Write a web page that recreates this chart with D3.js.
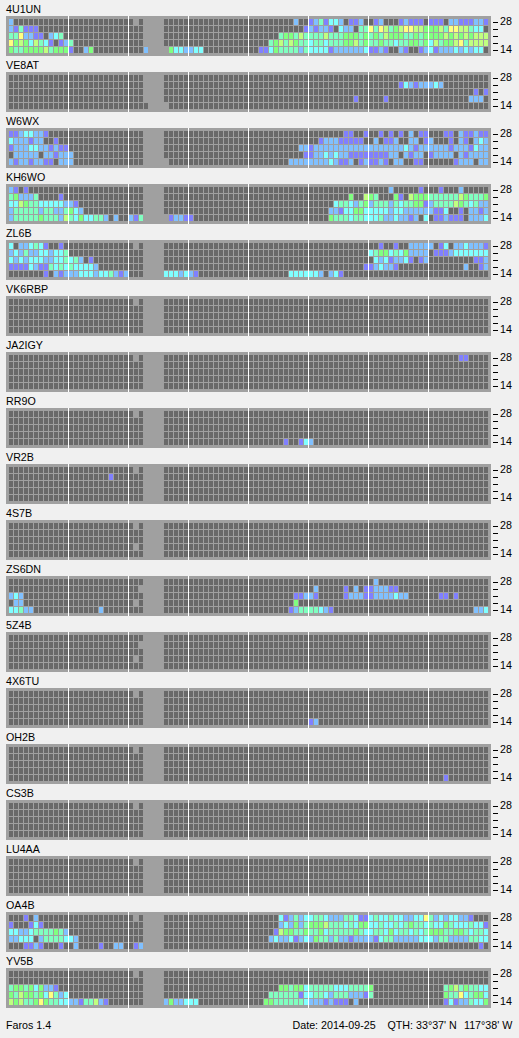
<!DOCTYPE html>
<html>
<head>
<meta charset="utf-8">
<title>Faros 1.4</title>
<script src="https://cdnjs.cloudflare.com/ajax/libs/d3/7.8.5/d3.min.js"></script>
<style>
  html, body { margin: 0; padding: 0; background: #f0f0f0; overflow: hidden; }
  svg { display: block; }
  text { font-family: "Liberation Sans", sans-serif; font-size: 10.7px; fill: #000; }
</style>
</head>
<body>
<div id="container"></div>
<script>
// level per 15 minute slot, 8 groups of 3 hours. 0 = nothing heard, . = no data, 1-7 = signal level
var blank = "000000000000 000000000000 000....00000 000000000000 000000000000 000000000000 000000000000 000000000000";
var blankNotch = "000000000000 000000000000 0.0....00000 000000000000 000000000000 000000000000 000000000000 000000000000";
var blankNotch2 = "000000000000 000000000000 00.....00000 000000000000 000000000000 000000000000 000000000000 000000000000";

var u4u1un = [
  "200000000000 000000000000 0.0....00000 000000000000 000000000200 124133201120 012000121110 111022111221",
  "214111000000 000000000000 000....00000 000000000000 000000000001 212210322044 747645677665 556477664330",
  "447221102340 000000000000 000....00000 000000000000 000000455464 444644455545 454655544545 555656565666",
  "756536431012 400000000000 000....00000 000000000000 000045646544 344344455645 445443445545 364556746666",
  "544555564555 100250000000 0002....5332 233000000000 001135444424 333312222223 112100210012 312223232330"
];
var ve8at = [
  blank,
  "000000000000 000000000000 000....00000 000000000000 000000000000 000000000000 000000132122 232000000000",
  "000000000000 000000000000 000....00000 000000000000 000000000000 000000000000 000000000000 000000000101",
  "000000000000 000000000000 000....00000 000000000000 000000000000 000000000100 000100000000 000000002220",
  "000000000000 000000000000 0000....0000 000000000000 000000000000 000000000000 000000000000 000000000000"
];
var w6wx = [
  "112332210000 000000000000 000....00000 000000000000 000000000000 000000011001 001010102011 000110211211",
  "322212200100 000000000000 000....00000 000000000000 000000000000 001222111110 020112002201 200010210232",
  "122233221211 000000000000 000....00000 000000000000 000000000022 122222222222 222222232122 222212221322",
  "022222022122 200000000000 000....00000 000000000000 000000000001 122323221111 111122021220 122220212222",
  "212212211022 200000000000 000.....0000 000000000000 000000002222 222232112012 112102200110 000001222022"
];
var kh6wo = [
  "210100000000 000000000000 000....00000 000000000000 000000000000 000000000000 000020000010 001000200000",
  "452224000010 000000000000 000....00000 000000000000 000000000000 000000005006 540005106555 444444654445",
  "336544333332 210000000000 000....00000 000000000000 000000000000 000003443245 244424344551 244446543422",
  "244444244224 532000000000 000....00000 000000000000 000000000000 000022133553 333323322222 211300102212",
  "244444544426 435334420200 214.....1221 100000000000 000000000000 000054443443 334223221203 011211102223"
];
var zl6b = [
  "302234310010 000000000000 0.0....00000 000000000000 000000000000 000000000000 001001002222 201302232221",
  "232422332334 000000000000 000....00000 000000000000 000000000000 000000000000 345534352222 011123333333",
  "323233322334 342010000000 000....00000 000000000000 000000000000 000000000000 032312231012 000000000112",
  "111132114343 433332000000 000....00000 000000000000 000000000000 000000000001 123221000000 000000020012",
  "000000010212 223332334212 000....33323 210000000000 000000003333 332023100000 000000000000 000000000000"
];
var vk6rbp = [blankNotch, blank, blank, blank, blank];
var ja2igy = [
  "000000000000 000000000000 0.0....00000 000000000000 000000000000 000000000000 000000000000 000000110000",
  blank, blank, blank, blank
];
var rr9o = [
  blankNotch, blank, blank, blank,
  "000000000000 000000000000 000....00000 000000000000 000000010013 200000000000 000000000000 000000000000"
];
var vr2b = [
  blankNotch,
  "000000000000 000000001000 000....00000 000000000000 000000000000 000000000000 000000000000 000000000000",
  blank, blank, blank
];
var s4s7b = [blankNotch, blank, blank, blankNotch, blank];
var zs6dn = [
  "000000000000 000000000000 000....00000 000000000000 000000000000 000000000000 020000000000 000000000000",
  "000000000000 000000000000 00.....00000 000000000000 000000000000 020000010201 122211000000 000000000000",
  "232000000000 000000000000 000....00000 000000000000 000000000112 210000012221 122223220000 001101000000",
  "022000000000 000000000000 0.0....00000 000000000000 000000000500 000000000000 000000000000 000000000000",
  "334220000000 000000200000 000....00000 000000000000 000000001244 443210000000 000000000000 000000000223"
];
var z5z4b = [blank, blankNotch2, blank, blankNotch, blank];
var x4x6tu = [
  blankNotch, blank, blank, blank,
  "000000000000 000000000000 000....00000 000000000000 000000000000 120000000000 000000000000 000000000000"
];
var oh2b = [
  blankNotch, blank, blank, blank,
  "000000000000 000000000000 000....00000 000000000000 000000000000 000000000000 000000000000 000100000000"
];
var cs3b = [blankNotch, blank, blank, blank, blank];
var lu4aa = [blankNotch, blank, blank, blank, blank];
var oa4b = [
  "000102000000 000000000000 0.0....00000 000000000000 000000312423 344322244311 343343322337 423233221000",
  "100013100000 000000000000 000....00000 000000000000 000000232524 555644434355 334334345443 433543334331",
  "332234444542 000000000000 000....00000 000000000000 000001655445 445344444543 344353443434 555445543443",
  "223330244443 320000000000 000....00000 000000000000 000023223123 254424221222 213442222233 324422224433",
  "000112100010 020000100220 012....00000 000000000000 000000000000 000000000000 000000000000 000000000010"
];
var yv5b = [
  blankNotch,
  blank,
  "455453522100 000000000000 000....00000 000000000000 000000554553 444443334444 500000000000 000456454433",
  "546554537423 000000000000 000....00000 000000000000 000044444413 344324442221 400000000000 000544734553",
  "656445754433 221446210000 000....25223 330000000000 000554444443 222121110200 000000000000 000131224335"
];

var callsigns = ["4U1UN", "VE8AT", "W6WX", "KH6WO", "ZL6B", "VK6RBP", "JA2IGY", "RR9O", "VR2B", "4S7B", "ZS6DN", "5Z4B", "4X6TU", "OH2B", "CS3B", "LU4AA", "OA4B", "YV5B"];
var beaconRows = [u4u1un, ve8at, w6wx, kh6wo, zl6b, vk6rbp, ja2igy, rr9o, vr2b, s4s7b, zs6dn, z5z4b, x4x6tu, oh2b, cs3b, lu4aa, oa4b, yv5b];

var bands = ["28", "24", "21", "18", "14"];
var bandLabels = ["28", "14"];
var levels = ["0", "1", "2", "3", "4", "5", "6", "7"];
var levelColors = ["#696969", "#8080ff", "#80c0ff", "#80ffff", "#80ffc0", "#80ff80", "#c0ff80", "#ffff80"];
var slots = d3.range(96);
var hourMarks = [12, 24, 36, 48, 60, 72, 84];

var footer = [
  { text: "Faros 1.4", x: 6 },
  { text: "Date: 2014-09-25", x: 292.5 },
  { text: "QTH: 33°37' N", x: 387.5 },
  { text: "117°38' W", x: 464 }
];

var width = 519;
var height = 1038;

var svg = d3.select("#container")
  .append("svg")
  .attr("width", width)
  .attr("height", height)
  .attr("shape-rendering", "crispEdges");

// panels sit 56px apart, each frame 40px tall
var panelY = d3.scalePoint()
  .domain(callsigns)
  .range([16, 16 + 56 * 17]);

var xScale = d3.scaleBand()
  .domain(slots)
  .range([9, 488])
  .paddingInner(0.2);

var yScale = d3.scaleBand()
  .domain(bands)
  .range([3, 37])
  .paddingInner(1 / 7);

var color = d3.scaleOrdinal().domain(levels).range(levelColors);

var panels = svg.selectAll("g.panel")
  .data(callsigns)
  .enter()
  .append("g")
  .attr("class", "panel")
  .attr("transform", function (d) { return "translate(0," + panelY(d) + ")"; });

panels.append("text")
  .attr("x", 6)
  .attr("y", -3)
  .attr("shape-rendering", "auto")
  .text(function (d) { return d; });

panels.append("rect")
  .attr("x", 6)
  .attr("width", 485)
  .attr("height", 40)
  .attr("fill", "#a0a0a0");

// flatten one beacon into cells, leaving out the no data slots
function toCells(rows) {
  var cells = [];
  rows.forEach(function (row, r) {
    row.replace(/ /g, "").split("").forEach(function (level, s) {
      if (level !== ".") cells.push({ band: bands[r], slot: s, level: level });
    });
  });
  return cells;
}

panels.selectAll("rect.cell")
  .data(function (d, i) { return toCells(beaconRows[i]); })
  .enter()
  .append("rect")
  .attr("class", "cell")
  .attr("x", function (d) { return xScale(d.slot); })
  .attr("y", function (d) { return yScale(d.band); })
  .attr("width", xScale.bandwidth())
  .attr("height", yScale.bandwidth())
  .attr("fill", function (d) { return color(d.level); });

// white lines every 3 hours
panels.selectAll("rect.hour")
  .data(hourMarks)
  .enter()
  .append("rect")
  .attr("class", "hour")
  .attr("x", function (d) { return xScale(d) - 1; })
  .attr("width", 1)
  .attr("height", 40)
  .attr("fill", "#fff");

panels.append("g")
  .attr("transform", "translate(493,0)")
  .call(d3.axisRight(yScale)
    .tickSize(5)
    .tickPadding(2)
    .tickFormat(function (d) { return bandLabels.indexOf(d) >= 0 ? d : ""; }))
  .call(function (g) { g.select(".domain").remove(); })
  .call(function (g) {
    g.selectAll("text")
      .attr("font-family", null)
      .attr("font-size", null)
      .attr("shape-rendering", "auto");
  });

svg.selectAll("text.footer")
  .data(footer)
  .enter()
  .append("text")
  .attr("class", "footer")
  .attr("x", function (d) { return d.x; })
  .attr("y", 1029)
  .attr("shape-rendering", "auto")
  .text(function (d) { return d.text; });
</script>
</body>
</html>
